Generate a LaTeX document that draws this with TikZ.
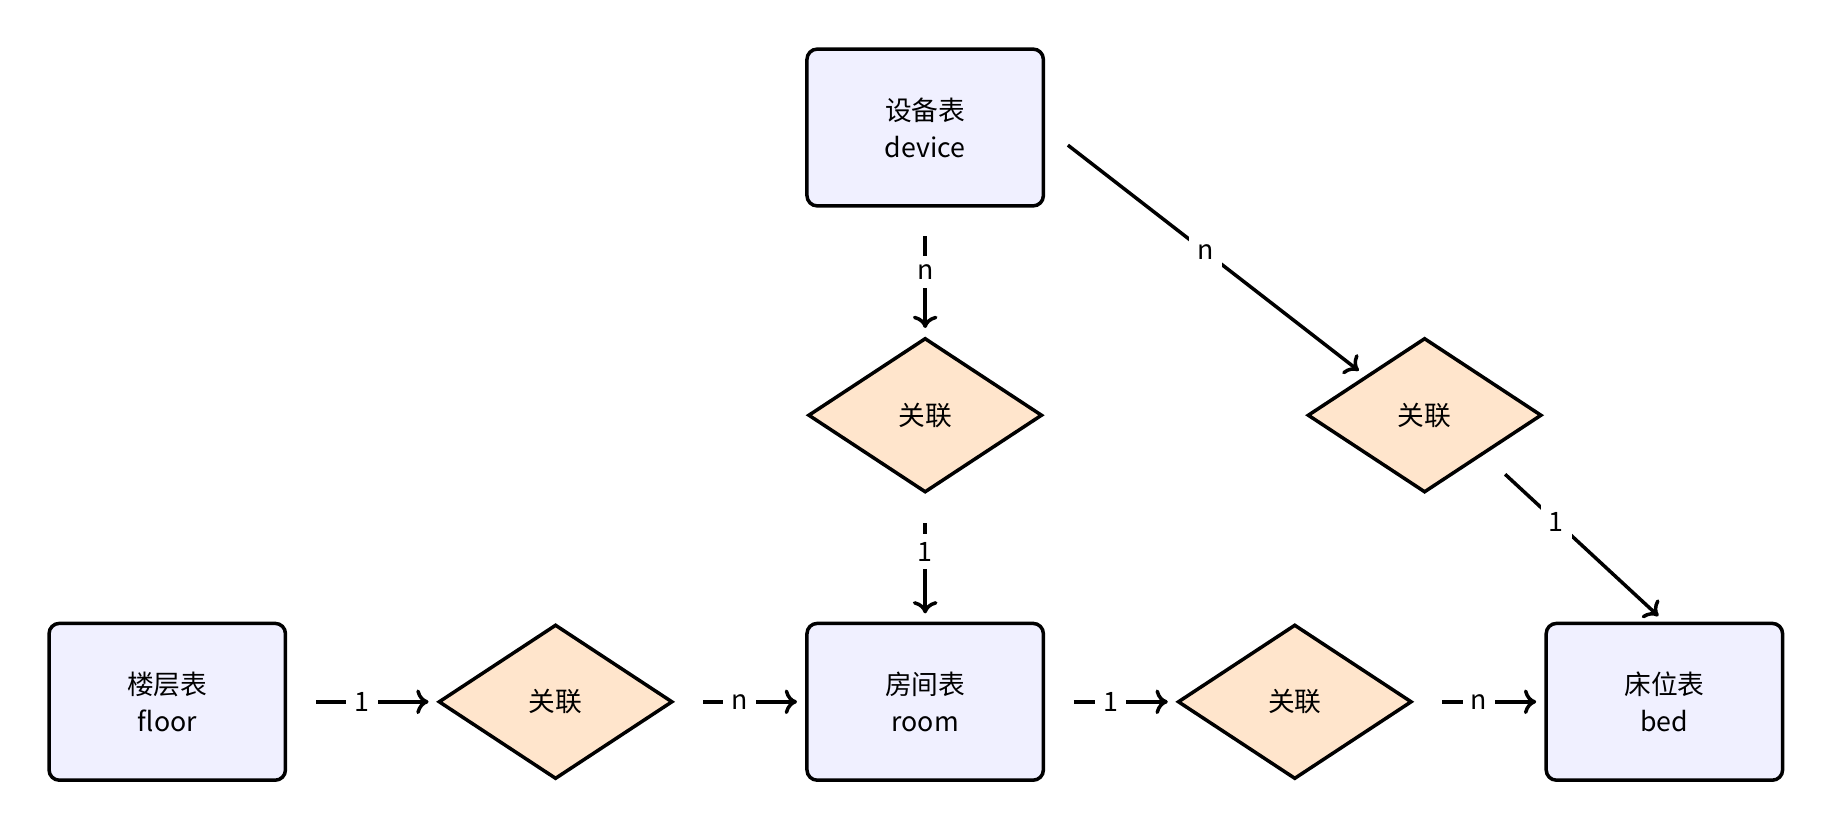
\documentclass[tikz,border=0pt]{standalone}
\usepackage{fontspec}
\setmainfont{Noto Sans CJK SC}
\usetikzlibrary{arrows.meta,shapes.geometric}
\begin{document}
\begin{tikzpicture}[x=0.01cm,y=-0.01cm,line width=0.85pt,
  ent/.style={draw,rounded corners=2.5pt,fill=blue!6,minimum width=2.02cm,minimum height=1.34cm,align=center,font=\fontsize{6.5}{9}\selectfont},
  rel/.style={draw,diamond,fill=orange!20,aspect=1.515,minimum width=2.0cm,minimum height=1.32cm,inner sep=0pt,font=\fontsize{6.5}{9}\selectfont},
  lnk/.style={-{To[length=3pt,width=6pt]},shorten <=7pt,shorten >=2pt},
  lab/.style={fill=white,inner sep=2pt,font=\fontsize{6.5}{8}\selectfont}]
\useasboundingbox (0,0) rectangle (1568,711);
\node[ent] (device) at (791,109) {设备表\\device};
\node[ent] (floor) at (143,600) {楼层表\\floor};
\node[ent] (room) at (791,600) {房间表\\room};
\node[ent] (bed) at (1423,600) {床位表\\bed};
%
\node[rel] (r1) at (791,355) {关联};
\node[rel] (r2) at (1218,355) {关联};
\node[rel] (r3) at (475,600) {关联};
\node[rel] (r4) at (1107,600) {关联};
%%
\draw[lnk] (device) -- node[lab] {n} (r1);
\draw[lnk] (r1) -- node[lab,pos=0.45] {1} (room);
\draw[lnk] (device.east) -- node[lab,pos=0.5] {n} (r2.north west);
\draw[lnk] (r2.south east) -- node[lab,pos=0.4] {1} (bed.north);
\draw[lnk] (floor) -- node[lab] {1} (r3);
\draw[lnk] (r3) -- node[lab] {n} (room);
\draw[lnk] (room) -- node[lab] {1} (r4);
\draw[lnk] (r4) -- node[lab] {n} (bed);
\end{tikzpicture}
\end{document}
